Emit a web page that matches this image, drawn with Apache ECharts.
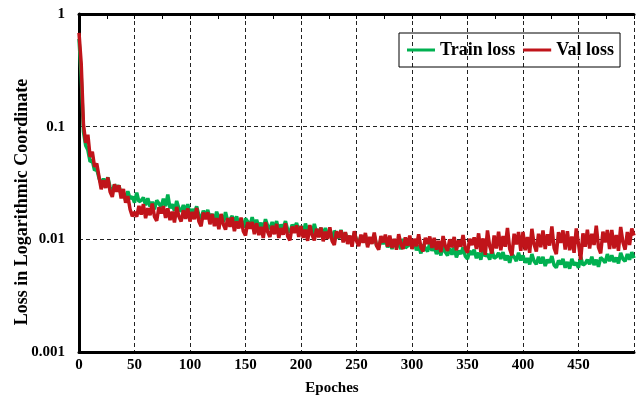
<!DOCTYPE html>
<html>
<head>
<meta charset="utf-8">
<script src="https://cdn.jsdelivr.net/npm/echarts@6/dist/echarts.min.js"></script>
<style>
  html, body { margin: 0; padding: 0; background: #fff; }
  #main { width: 637px; height: 397px; }
</style>
</head>
<body>
<div id="main"></div>
<script>
// epochs are sampled every 2, starting at 0
var epochStep = 2;

var trainLoss = [
  0.60, 0.28, 0.09, 0.068, 0.062, 0.049, 0.05, 0.041, 0.042, 0.035,
  0.0309, 0.0345, 0.0314, 0.0354, 0.029, 0.0267, 0.0307, 0.0278, 0.0301, 0.0247,
  0.0258, 0.0222, 0.0267, 0.023, 0.0239, 0.0212, 0.026, 0.0216, 0.0221, 0.0235,
  0.0201, 0.0232, 0.0195, 0.0215, 0.0185, 0.0222, 0.0208, 0.0193, 0.0229, 0.0197,
  0.025, 0.0189, 0.0205, 0.0179, 0.0219, 0.0188, 0.0177, 0.0201, 0.0179, 0.0205,
  0.0164, 0.0185, 0.0172, 0.0196, 0.0163, 0.0153, 0.0179, 0.0165, 0.0182, 0.0152,
  0.0168, 0.0146, 0.0176, 0.0153, 0.0159, 0.0142, 0.0174, 0.0145, 0.015, 0.0161,
  0.0139, 0.016, 0.0134, 0.0148, 0.0127, 0.0153, 0.0143, 0.0132, 0.0157, 0.0134,
  0.0149, 0.0128, 0.014, 0.0123, 0.0151, 0.0131, 0.0124, 0.0142, 0.0126, 0.0145,
  0.0118, 0.0135, 0.0126, 0.0145, 0.0122, 0.0115, 0.0135, 0.0126, 0.014, 0.0118,
  0.0131, 0.0113, 0.0138, 0.0119, 0.0124, 0.0111, 0.0137, 0.0114, 0.0118, 0.0126,
  0.011, 0.0126, 0.0106, 0.0116, 0.0099, 0.0119, 0.0111, 0.0102, 0.0121, 0.0104,
  0.0114, 0.0098, 0.0106, 0.0094, 0.0114, 0.0099, 0.0093, 0.0107, 0.0095, 0.0109,
  0.0089, 0.0101, 0.0094, 0.0108, 0.0089, 0.0085, 0.0099, 0.0091, 0.0101, 0.0085,
  0.0094, 0.0082, 0.01, 0.0087, 0.0091, 0.0082, 0.0101, 0.0084, 0.0087, 0.0094,
  0.0083, 0.0095, 0.008, 0.0088, 0.0075, 0.009, 0.0084, 0.0078, 0.0092, 0.0079,
  0.0087, 0.0074, 0.0082, 0.0072, 0.0088, 0.0077, 0.0072, 0.0083, 0.0073, 0.0085,
  0.0069, 0.0079, 0.0074, 0.0085, 0.0071, 0.0067, 0.0079, 0.0073, 0.0081, 0.0068,
  0.0076, 0.0066, 0.0081, 0.0071, 0.0074, 0.0066, 0.0081, 0.0068, 0.007, 0.0076,
  0.0067, 0.0077, 0.0065, 0.0072, 0.0062, 0.0074, 0.007, 0.0064, 0.0076, 0.0065,
  0.0072, 0.0062, 0.0068, 0.006, 0.0074, 0.0064, 0.006, 0.007, 0.0061, 0.007,
  0.0058, 0.0066, 0.0062, 0.0071, 0.0059, 0.0056, 0.0065, 0.006, 0.0067, 0.0056,
  0.0063, 0.0055, 0.0067, 0.0059, 0.0062, 0.0056, 0.007, 0.0059, 0.0061, 0.0066,
  0.006, 0.007, 0.0059, 0.0066, 0.0057, 0.0069, 0.0066, 0.0062, 0.0074, 0.0064,
  0.0072, 0.0063, 0.0069, 0.0061, 0.0076, 0.0067, 0.0064, 0.0074, 0.0066, 0.0077,
  0.0068
];

var valLoss = [
  0.68, 0.36, 0.105, 0.072, 0.085, 0.054, 0.06, 0.044, 0.047, 0.036,
  0.0278, 0.0335, 0.0286, 0.0354, 0.0264, 0.0238, 0.0308, 0.0265, 0.0302, 0.0231,
  0.028, 0.0211, 0.0242, 0.0185, 0.016, 0.0175, 0.0159, 0.0198, 0.0166, 0.0205,
  0.0154, 0.0189, 0.0164, 0.0208, 0.0159, 0.0146, 0.0193, 0.017, 0.0197, 0.0155,
  0.0188, 0.0148, 0.0176, 0.0141, 0.0194, 0.0159, 0.0144, 0.0181, 0.0152, 0.0188,
  0.0144, 0.0175, 0.0151, 0.019, 0.0144, 0.0131, 0.0173, 0.0151, 0.0174, 0.0136,
  0.0168, 0.0131, 0.0154, 0.0123, 0.0168, 0.0136, 0.0122, 0.0154, 0.0129, 0.0157,
  0.0118, 0.0144, 0.0125, 0.0156, 0.0118, 0.0108, 0.0142, 0.0124, 0.0142, 0.0111,
  0.0139, 0.0109, 0.0129, 0.0103, 0.0142, 0.0116, 0.0105, 0.0132, 0.0111, 0.0137,
  0.0103, 0.0126, 0.011, 0.0139, 0.0106, 0.0098, 0.013, 0.0114, 0.0133, 0.0105,
  0.0131, 0.0103, 0.0122, 0.0097, 0.0134, 0.0109, 0.0098, 0.0124, 0.0104, 0.0127,
  0.0096, 0.0117, 0.0101, 0.0128, 0.0097, 0.0089, 0.0118, 0.0103, 0.012, 0.0094,
  0.0116, 0.0091, 0.0108, 0.0086, 0.0118, 0.0097, 0.0087, 0.011, 0.0093, 0.0114,
  0.0085, 0.0105, 0.0091, 0.0115, 0.0088, 0.0081, 0.0107, 0.0094, 0.011, 0.0086,
  0.0108, 0.0084, 0.0101, 0.0081, 0.0111, 0.0091, 0.0082, 0.0104, 0.0088, 0.0108,
  0.0082, 0.0101, 0.0087, 0.0111, 0.0085, 0.0078, 0.0103, 0.0091, 0.0106, 0.0084,
  0.0103, 0.0081, 0.0097, 0.0077, 0.0107, 0.0087, 0.0079, 0.01, 0.0085, 0.0105,
  0.008, 0.0098, 0.0086, 0.0109, 0.0083, 0.0076, 0.0101, 0.0089, 0.0104, 0.0082,
  0.0113, 0.0077, 0.0102, 0.0073, 0.012, 0.0087, 0.0075, 0.0108, 0.0083, 0.0117,
  0.008, 0.0107, 0.0086, 0.0126, 0.0082, 0.0072, 0.0112, 0.009, 0.0116, 0.0079,
  0.0116, 0.008, 0.0105, 0.0076, 0.0124, 0.009, 0.0078, 0.0112, 0.0085, 0.012,
  0.0082, 0.0111, 0.0088, 0.013, 0.0084, 0.0074, 0.0116, 0.0093, 0.012, 0.0081,
  0.0118, 0.008, 0.0106, 0.0076, 0.0125, 0.0091, 0.0066, 0.0113, 0.0086, 0.0122,
  0.0083, 0.0112, 0.0089, 0.0132, 0.0085, 0.0075, 0.0117, 0.0094, 0.0121, 0.0082,
  0.0121, 0.0083, 0.0109, 0.0079, 0.0129, 0.0094, 0.0081, 0.0116, 0.0089, 0.0125,
  0.0108
];

var yTickLabels = { 1: '1', 0.1: '0.1', 0.01: '0.01', 0.001: '0.001' };

function withEpochs(values) {
  return values.map(function (v, i) { return [i * epochStep, v]; });
}

var serif = '"Liberation Serif", "Times New Roman", serif';

var myChart = echarts.init(document.getElementById('main'));

option = {
  animation: false,
  backgroundColor: '#fff',
  grid: { left: 79, right: 0, top: 14, bottom: 45 },
  legend: {
    left: 399,
    top: 33,
    padding: [8, 6, 8, 8],
    itemGap: 8,
    itemWidth: 28,
    itemHeight: 3,
    icon: 'rect',
    borderColor: '#000',
    borderWidth: 1,
    borderRadius: 0,
    textStyle: { fontFamily: serif, fontWeight: 'bold', fontSize: 18, color: '#000' },
    data: ['Train loss', 'Val loss']
  },
  xAxis: [{
    type: 'value',
    min: 0,
    max: 500,
    interval: 50,
    axisLine: { onZero: false, lineStyle: { color: '#000', width: 3 } },
    axisTick: { show: false },
    axisLabel: {
      margin: 6,
      fontFamily: serif, fontWeight: 'bold', fontSize: 15, color: '#000',
      formatter: function (v) { return v === 500 ? '' : String(v); }
    },
    splitLine: { show: true, lineStyle: { color: '#222', type: [4, 3], width: 1 } }
  }, {
    type: 'value',
    position: 'top',
    min: 0,
    max: 500,
    interval: 25,
    axisLine: { onZero: false, lineStyle: { color: '#000', width: 3 } },
    axisTick: { show: true, inside: true, length: 5, lineStyle: { color: '#000', width: 1 } },
    axisLabel: { show: false },
    splitLine: { show: false }
  }],
  yAxis: {
    type: 'log',
    logBase: 10,
    min: 0.001,
    max: 1,
    axisLine: { show: true, lineStyle: { color: '#000', width: 3 } },
    axisTick: { show: false },
    axisLabel: {
      margin: 14,
      fontFamily: serif, fontWeight: 'bold', fontSize: 15, color: '#000',
      formatter: function (v) { return yTickLabels[v] || String(v); }
    },
    splitLine: { show: true, lineStyle: { color: '#222', type: [4, 3], width: 1 } }
  },
  graphic: [{
    type: 'text',
    x: 22,
    y: 202,
    rotation: Math.PI / 2,
    style: {
      text: 'Loss in Logarithmic Coordinate',
      font: 'bold 18px ' + serif,
      fill: '#000',
      textAlign: 'center',
      textVerticalAlign: 'middle'
    }
  }, {
    type: 'text',
    x: 332,
    y: 388,
    style: {
      text: 'Epoches',
      font: 'bold 15px ' + serif,
      fill: '#000',
      textAlign: 'center',
      textVerticalAlign: 'middle'
    }
  }],
  series: [{
    name: 'Train loss',
    type: 'line',
    symbol: 'none',
    color: '#00b050',
    lineStyle: { width: 3.5, color: '#00b050' },
    data: withEpochs(trainLoss)
  }, {
    name: 'Val loss',
    type: 'line',
    symbol: 'none',
    color: '#c0141a',
    lineStyle: { width: 3.5, color: '#c0141a' },
    data: withEpochs(valLoss)
  }]
};

myChart.setOption(option);
</script>
</body>
</html>
